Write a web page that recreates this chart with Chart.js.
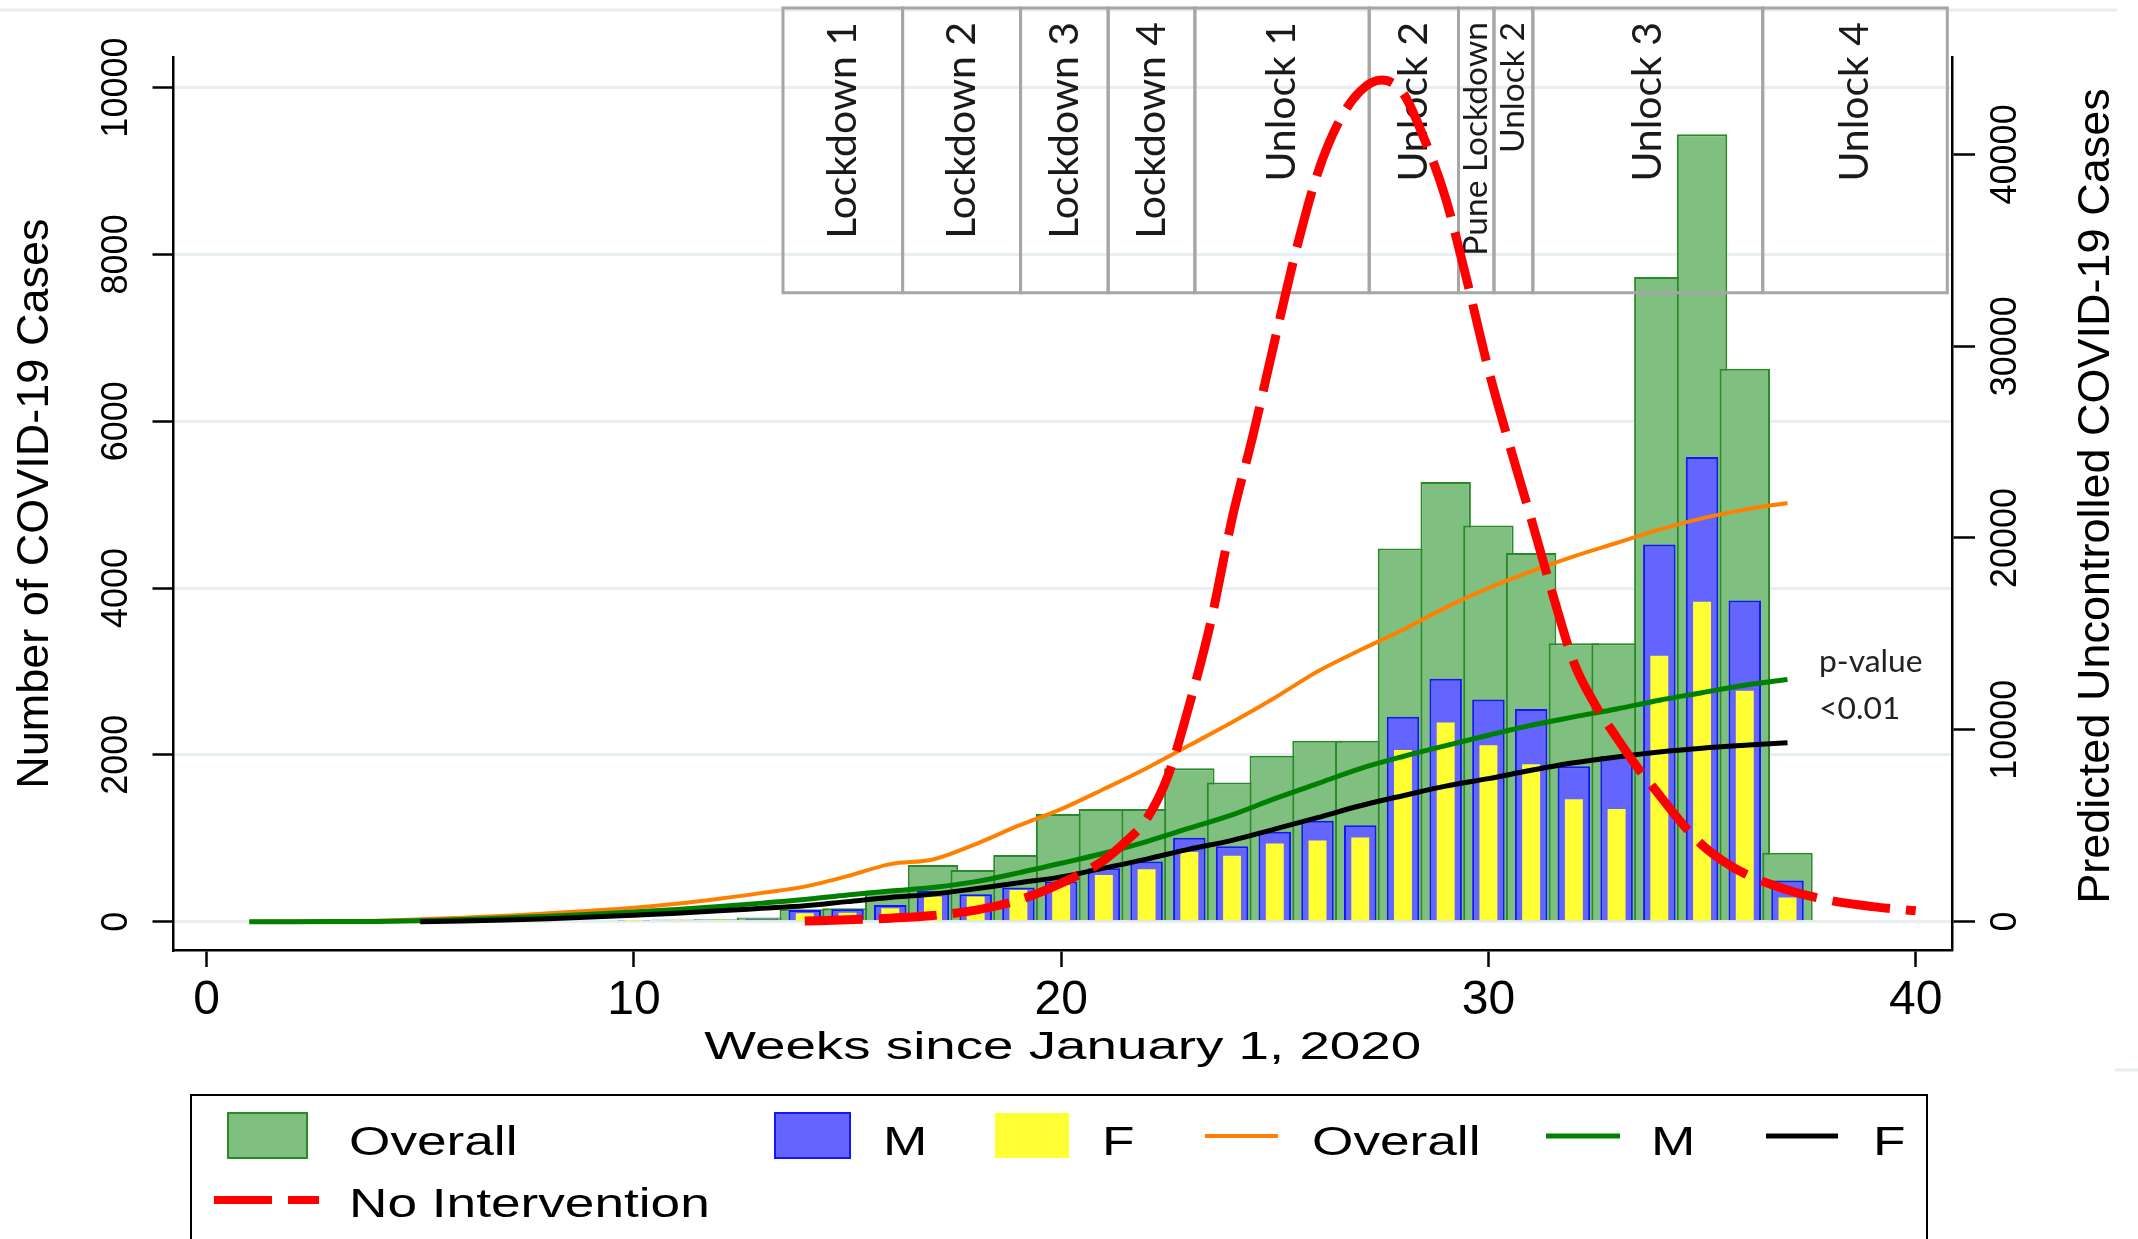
<!DOCTYPE html>
<html lang="en">
<head>
<meta charset="UTF-8">
<title>Weekly COVID-19 Cases, Pune</title>
<style>
  body { margin: 0; background: #fff; }
  #wrap { width: 2138px; height: 1239px; position: relative; }
</style>
</head>
<body>
<div id="wrap"><canvas id="casesChart"></canvas></div>

<script src="https://cdn.jsdelivr.net/npm/chart.js"></script>
<script>
// weekly reported cases (left axis)
const barWeeks      = [10, 11, 12, 13, 14, 15, 16, 17, 18, 19, 20, 21, 22, 23, 24, 25, 26, 27, 28, 29, 30, 31, 32, 33, 34, 35, 36, 37];
const overallCases  = [20, 25, 30, 50, 150, 160, 372, 680, 620, 800, 1292, 1350, 1350, 1840, 1667, 1990, 2169, 2169, 4475, 5270, 4750, 4420, 3338, 3338, 7730, 9440, 6630, 826];
const maleCases     = [12, 15, 18, 30, 140, 148, 200, 368, 328, 408, 480, 640, 720, 1005, 904, 1078, 1210, 1155, 2457, 2913, 2662, 2548, 1863, 1986, 4521, 5571, 3849, 493];
const femaleCases   = [8, 10, 12, 20, 100, 108, 160, 300, 300, 380, 440, 560, 628, 836, 790, 936, 973, 1009, 2059, 2388, 2114, 1886, 1466, 1352, 3187, 3836, 2767, 288];

// fitted trends (left axis)
const fitWeeks   = [1, 2, 3, 4, 5, 6, 7, 8, 9, 10, 11, 12, 13, 14, 15, 16, 17, 18, 19, 20, 21, 22, 23, 24, 25, 26, 27, 28, 29, 30, 31, 32, 33, 34, 35, 36, 37];
const overallFit = [0, 2, 5, 12, 28, 48, 70, 100, 132, 168, 215, 275, 345, 420, 545, 690, 745, 930, 1150, 1350, 1590, 1840, 2114, 2390, 2685, 3000, 3256, 3500, 3765, 4000, 4200, 4380, 4540, 4700, 4835, 4940, 5020];
const maleFit    = [0, 0, 1, 3, 10, 25, 45, 65, 88, 115, 145, 182, 222, 265, 320, 368, 410, 480, 585, 700, 820, 960, 1120, 1280, 1475, 1655, 1835, 1980, 2110, 2235, 2355, 2455, 2550, 2655, 2745, 2835, 2904];
const femaleFit  = [null, null, null, null, 0, 8, 20, 35, 55, 78, 102, 130, 160, 190, 240, 290, 330, 395, 465, 537, 642, 750, 870, 975, 1110, 1247, 1390, 1510, 1625, 1715, 1815, 1905, 1975, 2035, 2080, 2115, 2146];

// predicted uncontrolled cases (right axis)
const noIntWeeks = [14, 15, 16, 17, 18, 19, 20, 21, 21.5, 22, 22.5, 23, 23.5, 24, 24.5, 25, 25.5, 26, 26.5, 27, 27.5, 28, 28.5, 29, 29.5, 30, 30.5, 31, 31.5, 32, 32.5, 33, 33.5, 34, 34.5, 35, 35.5, 36, 37, 38, 39, 40];
const noIntCases = [30, 90, 180, 320, 600, 1120, 2000, 3200, 4150, 5350, 7600, 11300, 15600, 21000, 25450, 30300, 35000, 39000, 41700, 43300, 43880, 43200, 40800, 37700, 33400, 28800, 24800, 21000, 17100, 13500, 11300, 9600, 8000, 6600, 5200, 4000, 3150, 2500, 1650, 1100, 780, 560];

// restriction phases (weeks)
const phaseLabels = ['Lockdown 1', 'Lockdown 2', 'Lockdown 3', 'Lockdown 4', 'Unlock 1', 'Unlock 2', 'Pune Lockdown', 'Unlock 2', 'Unlock 3', 'Unlock 4'];
const phaseStart  = [13.49, 16.29, 19.05, 21.10, 23.13, 27.21, 29.30, 30.13, 31.04, 36.42];
const phaseEnd    = [16.29, 19.05, 21.10, 23.13, 27.21, 29.30, 30.13, 31.04, 36.42, 40.74];

const xTicks     = [0, 10, 20, 30, 40];
const leftTicks  = [0, 2000, 4000, 6000, 8000, 10000];
const rightTicks = [0, 10000, 20000, 30000, 40000];

const toPoints = (xs, ys) => xs.map((x, i) => ({ x: x, y: ys[i] }));
const SANS = '"Liberation Sans", Arial, sans-serif';
const CALIB = 'Lato, "Open Sans", sans-serif';

Chart.defaults.font.family = SANS;
Chart.defaults.color = '#000';

// stretched text helper (the Stata legend/axis title text is drawn wide)
function wideText(ctx, text, x, y, size, sx, align) {
  ctx.save();
  ctx.font = size + 'px ' + SANS;
  ctx.fillStyle = '#000';
  ctx.textBaseline = 'alphabetic';
  ctx.textAlign = align || 'left';
  ctx.translate(x, y);
  ctx.scale(sx, 1);
  ctx.fillText(text, 0, 0);
  ctx.restore();
}

function drawPhases(chart) {
  const ctx = chart.ctx;
  const x = chart.scales.x, y = chart.scales.y;
  const top = 8, bottom = y.getPixelForValue(7540);
  ctx.save();
  ctx.font = '45px ' + CALIB;
  const k = 217 / ctx.measureText('Lockdown 1').width;
  ctx.strokeStyle = '#a6a6a6';
  ctx.lineWidth = 3;
  phaseLabels.forEach((label, i) => {
    const x0 = x.getPixelForValue(phaseStart[i]);
    const x1 = x.getPixelForValue(phaseEnd[i]);
    ctx.strokeRect(x0, top, x1 - x0, bottom - top);
    const narrow = (x1 - x0) < 60;
    ctx.save();
    ctx.translate((x0 + x1) / 2, top + 14);
    ctx.rotate(-Math.PI / 2);
    ctx.font = ((narrow ? 37 : 45) * k).toFixed(1) + 'px ' + CALIB;
    ctx.fillStyle = '#1a1a1a';
    ctx.textAlign = 'right';
    ctx.textBaseline = 'middle';
    ctx.fillText(label, 0, 0);
    ctx.restore();
  });
  // p-value note next to the fitted curves
  ctx.font = (35 * k).toFixed(1) + 'px ' + CALIB;
  ctx.fillStyle = '#222';
  ctx.textAlign = 'left';
  ctx.textBaseline = 'alphabetic';
  ctx.fillText('p-value', 1819, 672);
  ctx.fillText('<0.01', 1819, 719);
  ctx.restore();
}

function drawLegend(chart) {
  const ctx = chart.ctx;
  const ds = chart.data.datasets;
  ctx.save();
  ctx.strokeStyle = '#000';
  ctx.lineWidth = 2;
  ctx.strokeRect(191, 1095, 1736, 170);

  // [dataset, swatch x, swatch width, text x, row]
  const items = [
    [0, 228, 79, 349, 0], [1, 775, 75, 883, 0], [2, 995, 74, 1102, 0],
    [3, 1205, 73, 1312, 0], [4, 1546, 74, 1651, 0], [5, 1766, 72, 1873, 0],
    [6, 214, 105, 349, 1]
  ];
  const rowMid = [1136, 1200], rowBase = [1155, 1217];
  items.forEach(([i, sx, sw, tx, row]) => {
    const d = ds[i];
    if (d.type === 'line') {
      ctx.save();
      ctx.strokeStyle = d.borderColor;
      ctx.lineWidth = d.legendWidth || d.borderWidth;
      ctx.setLineDash(d.borderDash || []);
      ctx.beginPath();
      ctx.moveTo(sx, rowMid[row]);
      ctx.lineTo(sx + sw, rowMid[row]);
      ctx.stroke();
      ctx.restore();
    } else {
      ctx.fillStyle = d.backgroundColor;
      ctx.fillRect(sx, 1113, sw, 45);
      if (d.borderWidth) {
        ctx.strokeStyle = d.borderColor;
        ctx.lineWidth = 2;
        ctx.strokeRect(sx, 1113, sw, 45);
      }
    }
    wideText(ctx, d.label, tx, rowBase[row], 40, 1.33);
  });
  ctx.restore();
}

const overlay = {
  id: 'overlay',
  beforeDraw(chart) {
    const ctx = chart.ctx;
    ctx.save();
    ctx.strokeStyle = '#e6edf1';
    ctx.lineWidth = 3;
    ctx.beginPath();
    ctx.moveTo(0, 10); ctx.lineTo(2117, 10);
    ctx.moveTo(2115, 1070); ctx.lineTo(2138, 1070);
    ctx.stroke();
    ctx.restore();
  },
  afterDatasetDraw(chart, args) {
    if (args.index === 0) drawPhases(chart);
  },
  afterDraw(chart) {
    const ctx = chart.ctx;
    const a = chart.chartArea;
    wideText(ctx, 'Weeks since January 1, 2020', (a.left + a.right) / 2, 1059, 38, 1.44, 'center');
    // right axis title reads bottom-to-top like the left one
    ctx.save();
    ctx.translate(2097, 496);
    ctx.rotate(-Math.PI / 2);
    ctx.font = '45px ' + SANS;
    ctx.fillStyle = '#000';
    ctx.textAlign = 'center';
    ctx.textBaseline = 'middle';
    ctx.fillText('Predicted Uncontrolled COVID-19 Cases', 0, 0);
    ctx.restore();
    drawLegend(chart);
  }
};

new Chart(document.getElementById('casesChart'), {
  type: 'bar',
  data: {
    datasets: [
      {
        label: 'Overall', data: toPoints(barWeeks, overallCases), yAxisID: 'y', order: 7,
        grouped: false, categoryPercentage: 1, barPercentage: 1.18,
        backgroundColor: '#7fbf7f', borderColor: '#2a8a2a', borderWidth: 2
      },
      {
        label: 'M', data: toPoints(barWeeks, maleCases), yAxisID: 'y', order: 6,
        grouped: false, categoryPercentage: 1, barPercentage: 0.76,
        backgroundColor: '#6464ff', borderColor: '#1414ff', borderWidth: 2
      },
      {
        label: 'F', data: toPoints(barWeeks, femaleCases), yAxisID: 'y', order: 5,
        grouped: false, categoryPercentage: 1, barPercentage: 0.42,
        backgroundColor: '#ffff33', borderWidth: 0
      },
      {
        type: 'line', label: 'Overall', data: toPoints(fitWeeks, overallFit), yAxisID: 'y', order: 4,
        borderColor: '#ff8000', borderWidth: 4, pointRadius: 0, cubicInterpolationMode: 'monotone'
      },
      {
        type: 'line', label: 'M', data: toPoints(fitWeeks, maleFit), yAxisID: 'y', order: 3,
        borderColor: '#008000', borderWidth: 5, pointRadius: 0, cubicInterpolationMode: 'monotone'
      },
      {
        type: 'line', label: 'F', data: toPoints(fitWeeks, femaleFit), yAxisID: 'y', order: 2,
        borderColor: '#000000', borderWidth: 5, pointRadius: 0, cubicInterpolationMode: 'monotone'
      },
      {
        type: 'line', label: 'No Intervention', data: toPoints(noIntWeeks, noIntCases), yAxisID: 'yR', order: 1,
        borderColor: '#ff0000', borderWidth: 9, legendWidth: 8, borderDash: [58, 16], borderCapStyle: 'butt',
        pointRadius: 0, cubicInterpolationMode: 'monotone'
      }
    ]
  },
  options: {
    responsive: true,
    maintainAspectRatio: false,
    animation: false,
    events: [],
    layout: { padding: { top: 57.3, left: 0, right: 0, bottom: 209 } },
    plugins: { legend: { display: false }, tooltip: { enabled: false } },
    scales: {
      x: {
        type: 'linear', min: -0.775, max: 40.85, offset: false,
        afterBuildTicks: s => { s.ticks = xTicks.map(v => ({ value: v })); },
        afterFit: s => { s.height = 80; },
        grid: { display: true, drawOnChartArea: false, offset: false, tickLength: 17, tickColor: '#000', tickWidth: 2.5 },
        border: { display: true, color: '#000', width: 2.5 },
        ticks: { font: { size: 48 }, padding: 5, maxRotation: 0, callback: v => String(v) }
      },
      y: {
        type: 'linear', position: 'left', min: -340, max: 10363,
        afterBuildTicks: s => { s.ticks = leftTicks.map(v => ({ value: v })); },
        afterFit: s => { s.width = 173.5; },
        grid: { color: '#e8eff3', lineWidth: 3, tickLength: 21, tickColor: '#000', tickWidth: 2.5 },
        border: { display: true, color: '#000', width: 2.5 },
        ticks: { font: { size: 36 }, minRotation: 90, maxRotation: 90, crossAlign: 'center', padding: -14.5, callback: v => String(v) },
        title: { display: true, text: 'Number of COVID-19 Cases', font: { size: 45 }, padding: { top: 8.7, bottom: 0 } }
      },
      yR: {
        type: 'linear', position: 'right', min: -1481, max: 45062,
        afterBuildTicks: s => { s.ticks = rightTicks.map(v => ({ value: v })); },
        afterFit: s => { s.width = 186; },
        grid: { drawOnChartArea: false, tickLength: 23, tickColor: '#000', tickWidth: 2.5 },
        border: { display: true, color: '#000', width: 2.5 },
        ticks: { font: { size: 36 }, minRotation: 90, maxRotation: 90, crossAlign: 'center', padding: -19, callback: v => String(v) }
      }
    }
  },
  plugins: [overlay]
});
</script>
</body>
</html>
